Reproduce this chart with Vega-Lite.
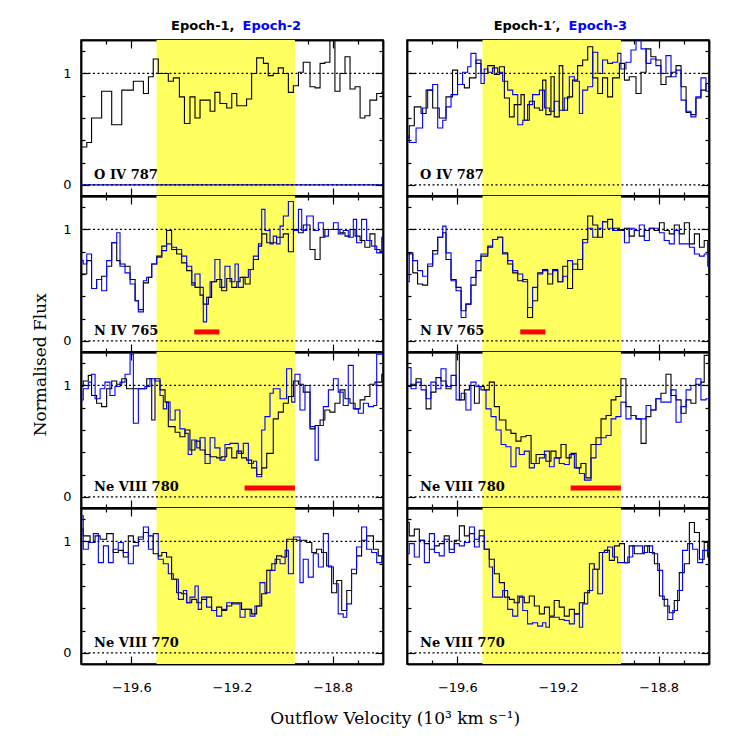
{
"$schema":"https://vega.github.io/schema/vega-lite/v6.json",
"padding":{"left":31,"top":18,"right":5,"bottom":5},
"config":{"view":{"stroke":"#000","strokeWidth":1.5},"axis":{"domain":true,"domainColor":"#000","domainWidth":1.5,"grid":false,"tickColor":"#000","tickWidth":1.2,"labelColor":"#000","labelFont":"DejaVu Sans","labelFontSize":13,"zindex":1}},
"datasets":{
"L1k":[{"v":-19.8,"f":0.34},{"v":-19.777,"f":0.38},{"v":-19.758,"f":0.6},{"v":-19.718,"f":0.84},{"v":-19.678,"f":0.54},{"v":-19.638,"f":0.85},{"v":-19.592,"f":0.93},{"v":-19.552,"f":0.82},{"v":-19.532,"f":0.97},{"v":-19.513,"f":1.13},{"v":-19.493,"f":1.0},{"v":-19.453,"f":0.93},{"v":-19.433,"f":0.96},{"v":-19.409,"f":0.79},{"v":-19.389,"f":0.55},{"v":-19.367,"f":0.79},{"v":-19.347,"f":0.6},{"v":-19.327,"f":0.76},{"v":-19.287,"f":0.66},{"v":-19.268,"f":0.83},{"v":-19.248,"f":0.73},{"v":-19.221,"f":0.69},{"v":-19.201,"f":0.82},{"v":-19.181,"f":0.71},{"v":-19.142,"f":0.77},{"v":-19.122,"f":1.0},{"v":-19.102,"f":1.14},{"v":-19.075,"f":1.09},{"v":-19.056,"f":0.98},{"v":-19.036,"f":1.0},{"v":-19.016,"f":1.05},{"v":-18.996,"f":1.0},{"v":-18.976,"f":0.83},{"v":-18.956,"f":0.89},{"v":-18.936,"f":1.01},{"v":-18.917,"f":1.1},{"v":-18.89,"f":0.88},{"v":-18.87,"f":0.87},{"v":-18.85,"f":1.09},{"v":-18.831,"f":1.1},{"v":-18.811,"f":1.4},{"v":-18.791,"f":0.84},{"v":-18.771,"f":1.0},{"v":-18.751,"f":1.15},{"v":-18.731,"f":0.86},{"v":-18.711,"f":0.88},{"v":-18.691,"f":0.6},{"v":-18.672,"f":0.62},{"v":-18.652,"f":0.76},{"v":-18.625,"f":0.82},{"v":-18.605,"f":0.83},{"v":-18.6,"f":0.83}],
"L1b":[{"v":-19.8,"f":0},{"v":-18.6,"f":0}],
"R1b":[{"v":-19.8,"f":0.44},{"v":-19.791,"f":0.38},{"v":-19.764,"f":0.51},{"v":-19.738,"f":0.69},{"v":-19.718,"f":0.85},{"v":-19.698,"f":0.9},{"v":-19.678,"f":0.51},{"v":-19.658,"f":0.58},{"v":-19.645,"f":0.7},{"v":-19.625,"f":0.81},{"v":-19.599,"f":0.9},{"v":-19.579,"f":1.01},{"v":-19.559,"f":1.06},{"v":-19.546,"f":1.18},{"v":-19.526,"f":1.09},{"v":-19.506,"f":0.91},{"v":-19.493,"f":1.04},{"v":-19.479,"f":1.01},{"v":-19.46,"f":1.05},{"v":-19.44,"f":1.01},{"v":-19.42,"f":0.93},{"v":-19.4,"f":0.85},{"v":-19.38,"f":0.81},{"v":-19.36,"f":0.54},{"v":-19.34,"f":0.58},{"v":-19.321,"f":0.72},{"v":-19.301,"f":0.81},{"v":-19.274,"f":0.85},{"v":-19.254,"f":0.69},{"v":-19.234,"f":0.66},{"v":-19.215,"f":0.75},{"v":-19.195,"f":0.67},{"v":-19.175,"f":0.78},{"v":-19.155,"f":0.97},{"v":-19.135,"f":0.93},{"v":-19.115,"f":0.64},{"v":-19.102,"f":0.85},{"v":-19.082,"f":0.88},{"v":-19.062,"f":1.19},{"v":-19.042,"f":1.0},{"v":-19.023,"f":1.12},{"v":-19.003,"f":1.09},{"v":-18.983,"f":1.1},{"v":-18.963,"f":1.18},{"v":-18.95,"f":1.04},{"v":-18.93,"f":1.1},{"v":-18.91,"f":1.21},{"v":-18.89,"f":1.32},{"v":-18.87,"f":1.22},{"v":-18.85,"f":1.09},{"v":-18.831,"f":1.13},{"v":-18.811,"f":1.07},{"v":-18.791,"f":1.0},{"v":-18.771,"f":1.16},{"v":-18.751,"f":0.97},{"v":-18.731,"f":1.03},{"v":-18.711,"f":0.76},{"v":-18.691,"f":0.66},{"v":-18.672,"f":0.61},{"v":-18.652,"f":0.79},{"v":-18.632,"f":0.96},{"v":-18.612,"f":0.84},{"v":-18.6,"f":0.84}],
"R1k":[{"v":-19.8,"f":0.42},{"v":-19.791,"f":0.53},{"v":-19.771,"f":0.7},{"v":-19.744,"f":0.64},{"v":-19.724,"f":0.85},{"v":-19.698,"f":0.69},{"v":-19.672,"f":0.6},{"v":-19.645,"f":0.79},{"v":-19.619,"f":1.03},{"v":-19.599,"f":0.9},{"v":-19.572,"f":0.87},{"v":-19.552,"f":0.96},{"v":-19.526,"f":1.12},{"v":-19.506,"f":1.0},{"v":-19.479,"f":1.07},{"v":-19.453,"f":0.99},{"v":-19.433,"f":1.06},{"v":-19.413,"f":0.78},{"v":-19.393,"f":0.61},{"v":-19.374,"f":0.72},{"v":-19.347,"f":0.81},{"v":-19.334,"f":0.58},{"v":-19.314,"f":0.75},{"v":-19.294,"f":0.69},{"v":-19.274,"f":0.67},{"v":-19.261,"f":0.94},{"v":-19.248,"f":0.63},{"v":-19.228,"f":0.97},{"v":-19.215,"f":0.61},{"v":-19.195,"f":1.07},{"v":-19.181,"f":0.67},{"v":-19.162,"f":0.79},{"v":-19.142,"f":0.94},{"v":-19.122,"f":1.07},{"v":-19.102,"f":1.12},{"v":-19.082,"f":1.24},{"v":-19.062,"f":0.96},{"v":-19.042,"f":0.82},{"v":-19.023,"f":0.96},{"v":-19.003,"f":0.79},{"v":-18.983,"f":0.96},{"v":-18.956,"f":1.09},{"v":-18.936,"f":0.94},{"v":-18.917,"f":0.97},{"v":-18.89,"f":0.82},{"v":-18.87,"f":1.01},{"v":-18.85,"f":1.22},{"v":-18.831,"f":1.15},{"v":-18.811,"f":1.12},{"v":-18.791,"f":0.9},{"v":-18.771,"f":0.97},{"v":-18.751,"f":1.01},{"v":-18.731,"f":1.07},{"v":-18.711,"f":0.88},{"v":-18.691,"f":0.65},{"v":-18.672,"f":0.63},{"v":-18.652,"f":0.78},{"v":-18.632,"f":0.85},{"v":-18.612,"f":0.91},{"v":-18.6,"f":0.91}],
"L2b":[{"v":-19.8,"f":0.72},{"v":-19.791,"f":0.69},{"v":-19.777,"f":0.78},{"v":-19.758,"f":0.47},{"v":-19.738,"f":0.55},{"v":-19.718,"f":0.45},{"v":-19.698,"f":0.72},{"v":-19.678,"f":0.88},{"v":-19.658,"f":0.97},{"v":-19.645,"f":0.67},{"v":-19.625,"f":0.61},{"v":-19.605,"f":0.51},{"v":-19.585,"f":0.36},{"v":-19.572,"f":0.26},{"v":-19.552,"f":0.54},{"v":-19.539,"f":0.57},{"v":-19.519,"f":0.69},{"v":-19.499,"f":0.75},{"v":-19.479,"f":0.81},{"v":-19.46,"f":0.87},{"v":-19.44,"f":0.84},{"v":-19.42,"f":0.82},{"v":-19.4,"f":0.76},{"v":-19.38,"f":0.67},{"v":-19.36,"f":0.5},{"v":-19.347,"f":0.6},{"v":-19.327,"f":0.48},{"v":-19.314,"f":0.17},{"v":-19.301,"f":0.39},{"v":-19.287,"f":0.53},{"v":-19.268,"f":0.73},{"v":-19.248,"f":0.48},{"v":-19.228,"f":0.67},{"v":-19.208,"f":0.53},{"v":-19.188,"f":0.69},{"v":-19.175,"f":0.48},{"v":-19.155,"f":0.57},{"v":-19.135,"f":0.64},{"v":-19.115,"f":0.76},{"v":-19.095,"f":0.87},{"v":-19.082,"f":1.18},{"v":-19.069,"f":0.99},{"v":-19.049,"f":0.87},{"v":-19.036,"f":0.94},{"v":-19.023,"f":0.87},{"v":-19.009,"f":1.03},{"v":-18.996,"f":1.12},{"v":-18.976,"f":1.25},{"v":-18.956,"f":0.99},{"v":-18.936,"f":1.18},{"v":-18.923,"f":0.99},{"v":-18.903,"f":1.12},{"v":-18.877,"f":0.99},{"v":-18.857,"f":1.06},{"v":-18.837,"f":0.94},{"v":-18.817,"f":1.0},{"v":-18.797,"f":1.06},{"v":-18.778,"f":0.96},{"v":-18.758,"f":0.99},{"v":-18.738,"f":0.93},{"v":-18.718,"f":1.09},{"v":-18.705,"f":0.88},{"v":-18.685,"f":1.09},{"v":-18.665,"f":0.9},{"v":-18.645,"f":0.85},{"v":-18.625,"f":0.79},{"v":-18.605,"f":0.93},{"v":-18.6,"f":0.93}],
"L2k":[{"v":-19.8,"f":0.6},{"v":-19.777,"f":0.72},{"v":-19.758,"f":0.47},{"v":-19.738,"f":0.55},{"v":-19.718,"f":0.58},{"v":-19.698,"f":0.67},{"v":-19.678,"f":0.88},{"v":-19.658,"f":0.72},{"v":-19.645,"f":0.69},{"v":-19.625,"f":0.67},{"v":-19.605,"f":0.55},{"v":-19.585,"f":0.36},{"v":-19.572,"f":0.28},{"v":-19.552,"f":0.52},{"v":-19.532,"f":0.57},{"v":-19.519,"f":0.69},{"v":-19.499,"f":0.76},{"v":-19.479,"f":0.85},{"v":-19.46,"f":0.99},{"v":-19.44,"f":0.82},{"v":-19.42,"f":0.78},{"v":-19.4,"f":0.7},{"v":-19.38,"f":0.63},{"v":-19.36,"f":0.52},{"v":-19.347,"f":0.48},{"v":-19.327,"f":0.41},{"v":-19.314,"f":0.33},{"v":-19.294,"f":0.39},{"v":-19.281,"f":0.53},{"v":-19.261,"f":0.55},{"v":-19.241,"f":0.45},{"v":-19.221,"f":0.56},{"v":-19.201,"f":0.48},{"v":-19.181,"f":0.53},{"v":-19.168,"f":0.57},{"v":-19.148,"f":0.51},{"v":-19.128,"f":0.64},{"v":-19.115,"f":0.73},{"v":-19.095,"f":0.85},{"v":-19.082,"f":0.96},{"v":-19.062,"f":0.88},{"v":-19.023,"f":0.93},{"v":-18.996,"f":0.96},{"v":-18.976,"f":0.8},{"v":-18.956,"f":1.0},{"v":-18.936,"f":0.97},{"v":-18.917,"f":1.04},{"v":-18.89,"f":0.82},{"v":-18.87,"f":0.73},{"v":-18.85,"f":0.93},{"v":-18.831,"f":1.0},{"v":-18.771,"f":0.97},{"v":-18.751,"f":0.94},{"v":-18.731,"f":1.0},{"v":-18.711,"f":0.94},{"v":-18.691,"f":0.9},{"v":-18.672,"f":0.84},{"v":-18.652,"f":0.96},{"v":-18.632,"f":0.82},{"v":-18.612,"f":0.8},{"v":-18.6,"f":0.8}],
"R2b":[{"v":-19.8,"f":0.53},{"v":-19.791,"f":0.78},{"v":-19.777,"f":0.72},{"v":-19.758,"f":0.63},{"v":-19.738,"f":0.58},{"v":-19.718,"f":0.69},{"v":-19.698,"f":0.78},{"v":-19.678,"f":0.93},{"v":-19.658,"f":1.03},{"v":-19.645,"f":0.79},{"v":-19.625,"f":0.54},{"v":-19.605,"f":0.45},{"v":-19.585,"f":0.21},{"v":-19.566,"f":0.33},{"v":-19.546,"f":0.57},{"v":-19.526,"f":0.72},{"v":-19.506,"f":0.78},{"v":-19.479,"f":0.85},{"v":-19.46,"f":0.91},{"v":-19.44,"f":0.93},{"v":-19.42,"f":0.78},{"v":-19.4,"f":0.72},{"v":-19.38,"f":0.63},{"v":-19.36,"f":0.6},{"v":-19.34,"f":0.53},{"v":-19.321,"f":0.3},{"v":-19.301,"f":0.48},{"v":-19.281,"f":0.6},{"v":-19.261,"f":0.63},{"v":-19.241,"f":0.6},{"v":-19.221,"f":0.63},{"v":-19.201,"f":0.53},{"v":-19.181,"f":0.58},{"v":-19.162,"f":0.72},{"v":-19.142,"f":0.64},{"v":-19.122,"f":0.73},{"v":-19.102,"f":0.88},{"v":-19.082,"f":1.01},{"v":-19.062,"f":0.93},{"v":-19.042,"f":1.01},{"v":-19.023,"f":1.07},{"v":-19.003,"f":1.01},{"v":-18.983,"f":0.99},{"v":-18.956,"f":1.0},{"v":-18.936,"f":0.88},{"v":-18.917,"f":1.01},{"v":-18.897,"f":0.99},{"v":-18.877,"f":1.04},{"v":-18.857,"f":0.9},{"v":-18.837,"f":1.01},{"v":-18.797,"f":0.97},{"v":-18.778,"f":0.9},{"v":-18.758,"f":0.87},{"v":-18.738,"f":0.99},{"v":-18.718,"f":0.87},{"v":-18.678,"f":0.84},{"v":-18.658,"f":0.78},{"v":-18.638,"f":0.76},{"v":-18.619,"f":0.78},{"v":-18.605,"f":0.67},{"v":-18.6,"f":0.67}],
"R2k":[{"v":-19.8,"f":0.78},{"v":-19.791,"f":0.79},{"v":-19.777,"f":0.61},{"v":-19.758,"f":0.51},{"v":-19.738,"f":0.5},{"v":-19.718,"f":0.67},{"v":-19.698,"f":0.81},{"v":-19.678,"f":0.93},{"v":-19.658,"f":0.97},{"v":-19.645,"f":0.73},{"v":-19.625,"f":0.55},{"v":-19.605,"f":0.48},{"v":-19.585,"f":0.27},{"v":-19.566,"f":0.33},{"v":-19.546,"f":0.5},{"v":-19.526,"f":0.63},{"v":-19.506,"f":0.76},{"v":-19.479,"f":0.84},{"v":-19.46,"f":0.91},{"v":-19.44,"f":0.93},{"v":-19.42,"f":0.79},{"v":-19.4,"f":0.69},{"v":-19.38,"f":0.61},{"v":-19.36,"f":0.54},{"v":-19.34,"f":0.55},{"v":-19.321,"f":0.21},{"v":-19.301,"f":0.36},{"v":-19.281,"f":0.61},{"v":-19.261,"f":0.64},{"v":-19.241,"f":0.51},{"v":-19.221,"f":0.64},{"v":-19.201,"f":0.53},{"v":-19.181,"f":0.67},{"v":-19.162,"f":0.47},{"v":-19.142,"f":0.69},{"v":-19.122,"f":0.64},{"v":-19.102,"f":0.91},{"v":-19.082,"f":1.12},{"v":-19.062,"f":1.04},{"v":-19.042,"f":0.93},{"v":-19.023,"f":1.07},{"v":-19.003,"f":1.09},{"v":-18.983,"f":1.01},{"v":-18.956,"f":0.99},{"v":-18.936,"f":1.01},{"v":-18.917,"f":0.94},{"v":-18.897,"f":0.99},{"v":-18.877,"f":0.94},{"v":-18.857,"f":0.99},{"v":-18.837,"f":1.01},{"v":-18.817,"f":0.99},{"v":-18.797,"f":1.06},{"v":-18.778,"f":0.99},{"v":-18.758,"f":0.96},{"v":-18.738,"f":1.04},{"v":-18.718,"f":0.96},{"v":-18.698,"f":1.06},{"v":-18.678,"f":0.87},{"v":-18.658,"f":0.96},{"v":-18.638,"f":0.84},{"v":-18.619,"f":0.9},{"v":-18.605,"f":0.79},{"v":-18.6,"f":0.79}],
"L3b":[{"v":-19.8,"f":0.87},{"v":-19.791,"f":0.97},{"v":-19.771,"f":1.03},{"v":-19.758,"f":1.1},{"v":-19.744,"f":0.88},{"v":-19.724,"f":0.97},{"v":-19.705,"f":1.03},{"v":-19.685,"f":0.91},{"v":-19.665,"f":0.99},{"v":-19.645,"f":1.03},{"v":-19.625,"f":1.1},{"v":-19.605,"f":1.28},{"v":-19.592,"f":0.66},{"v":-19.572,"f":0.97},{"v":-19.546,"f":0.99},{"v":-19.526,"f":1.06},{"v":-19.506,"f":1.04},{"v":-19.486,"f":0.91},{"v":-19.473,"f":0.79},{"v":-19.46,"f":0.85},{"v":-19.446,"f":0.69},{"v":-19.426,"f":0.78},{"v":-19.407,"f":0.61},{"v":-19.387,"f":0.57},{"v":-19.374,"f":0.38},{"v":-19.36,"f":0.51},{"v":-19.34,"f":0.44},{"v":-19.327,"f":0.53},{"v":-19.307,"f":0.3},{"v":-19.287,"f":0.53},{"v":-19.268,"f":0.44},{"v":-19.248,"f":0.33},{"v":-19.228,"f":0.47},{"v":-19.208,"f":0.48},{"v":-19.175,"f":0.39},{"v":-19.155,"f":0.48},{"v":-19.135,"f":0.3},{"v":-19.115,"f":0.32},{"v":-19.102,"f":0.18},{"v":-19.082,"f":0.6},{"v":-19.069,"f":0.72},{"v":-19.049,"f":0.93},{"v":-19.036,"f":0.97},{"v":-19.009,"f":0.88},{"v":-18.983,"f":1.15},{"v":-18.963,"f":0.85},{"v":-18.95,"f":1.1},{"v":-18.93,"f":0.78},{"v":-18.91,"f":1.0},{"v":-18.89,"f":0.63},{"v":-18.87,"f":0.33},{"v":-18.857,"f":0.64},{"v":-18.837,"f":0.81},{"v":-18.817,"f":0.96},{"v":-18.797,"f":1.06},{"v":-18.778,"f":0.94},{"v":-18.758,"f":0.82},{"v":-18.738,"f":1.18},{"v":-18.718,"f":0.79},{"v":-18.698,"f":0.75},{"v":-18.678,"f":0.84},{"v":-18.658,"f":0.81},{"v":-18.638,"f":0.82},{"v":-18.625,"f":1.28},{"v":-18.6,"f":1.28}],
"L3k":[{"v":-19.8,"f":0.99},{"v":-19.791,"f":1.04},{"v":-19.771,"f":1.09},{"v":-19.758,"f":0.91},{"v":-19.738,"f":0.84},{"v":-19.718,"f":0.81},{"v":-19.698,"f":0.97},{"v":-19.678,"f":1.04},{"v":-19.658,"f":1.01},{"v":-19.638,"f":1.06},{"v":-19.619,"f":0.97},{"v":-19.539,"f":1.06},{"v":-19.519,"f":0.69},{"v":-19.506,"f":1.06},{"v":-19.486,"f":0.96},{"v":-19.466,"f":0.85},{"v":-19.453,"f":0.63},{"v":-19.426,"f":0.58},{"v":-19.407,"f":0.54},{"v":-19.387,"f":0.6},{"v":-19.367,"f":0.42},{"v":-19.347,"f":0.5},{"v":-19.327,"f":0.42},{"v":-19.307,"f":0.38},{"v":-19.287,"f":0.36},{"v":-19.261,"f":0.35},{"v":-19.241,"f":0.36},{"v":-19.221,"f":0.44},{"v":-19.201,"f":0.35},{"v":-19.181,"f":0.41},{"v":-19.162,"f":0.35},{"v":-19.142,"f":0.33},{"v":-19.122,"f":0.26},{"v":-19.102,"f":0.2},{"v":-19.082,"f":0.26},{"v":-19.062,"f":0.39},{"v":-19.036,"f":0.7},{"v":-19.016,"f":0.76},{"v":-18.996,"f":0.84},{"v":-18.976,"f":0.9},{"v":-18.956,"f":1.04},{"v":-18.936,"f":1.01},{"v":-18.917,"f":0.94},{"v":-18.89,"f":0.61},{"v":-18.87,"f":0.64},{"v":-18.85,"f":0.69},{"v":-18.831,"f":0.78},{"v":-18.811,"f":0.76},{"v":-18.791,"f":0.84},{"v":-18.771,"f":0.96},{"v":-18.751,"f":0.88},{"v":-18.731,"f":0.84},{"v":-18.711,"f":0.79},{"v":-18.691,"f":0.87},{"v":-18.672,"f":0.9},{"v":-18.652,"f":1.01},{"v":-18.632,"f":1.03},{"v":-18.605,"f":1.1},{"v":-18.6,"f":1.1}],
"R3b":[{"v":-19.8,"f":1.16},{"v":-19.784,"f":0.97},{"v":-19.764,"f":1.03},{"v":-19.744,"f":0.96},{"v":-19.724,"f":0.88},{"v":-19.705,"f":1.03},{"v":-19.685,"f":0.97},{"v":-19.665,"f":1.15},{"v":-19.645,"f":0.99},{"v":-19.625,"f":1.09},{"v":-19.605,"f":0.87},{"v":-19.585,"f":0.93},{"v":-19.566,"f":0.78},{"v":-19.546,"f":1.03},{"v":-19.526,"f":0.99},{"v":-19.506,"f":0.96},{"v":-19.486,"f":0.79},{"v":-19.466,"f":0.72},{"v":-19.446,"f":0.6},{"v":-19.426,"f":0.47},{"v":-19.407,"f":0.45},{"v":-19.387,"f":0.27},{"v":-19.367,"f":0.44},{"v":-19.354,"f":0.38},{"v":-19.334,"f":0.41},{"v":-19.314,"f":0.26},{"v":-19.294,"f":0.3},{"v":-19.274,"f":0.35},{"v":-19.254,"f":0.41},{"v":-19.234,"f":0.27},{"v":-19.215,"f":0.35},{"v":-19.195,"f":0.3},{"v":-19.175,"f":0.29},{"v":-19.155,"f":0.38},{"v":-19.135,"f":0.26},{"v":-19.115,"f":0.21},{"v":-19.095,"f":0.15},{"v":-19.069,"f":0.35},{"v":-19.049,"f":0.47},{"v":-19.029,"f":0.53},{"v":-19.009,"f":0.55},{"v":-18.989,"f":0.7},{"v":-18.97,"f":0.72},{"v":-18.95,"f":0.85},{"v":-18.93,"f":0.7},{"v":-18.91,"f":0.73},{"v":-18.89,"f":0.7},{"v":-18.85,"f":0.82},{"v":-18.831,"f":0.78},{"v":-18.811,"f":0.88},{"v":-18.791,"f":0.85},{"v":-18.751,"f":0.96},{"v":-18.731,"f":0.67},{"v":-18.711,"f":0.81},{"v":-18.691,"f":0.96},{"v":-18.672,"f":1.0},{"v":-18.652,"f":1.06},{"v":-18.632,"f":0.87},{"v":-18.612,"f":0.88},{"v":-18.6,"f":0.88}],
"R3k":[{"v":-19.8,"f":0.99},{"v":-19.784,"f":1.01},{"v":-19.764,"f":1.06},{"v":-19.744,"f":1.0},{"v":-19.724,"f":0.79},{"v":-19.705,"f":0.94},{"v":-19.685,"f":1.07},{"v":-19.665,"f":1.04},{"v":-19.645,"f":0.97},{"v":-19.625,"f":1.0},{"v":-19.605,"f":1.28},{"v":-19.592,"f":0.87},{"v":-19.572,"f":0.96},{"v":-19.552,"f":1.0},{"v":-19.532,"f":0.84},{"v":-19.513,"f":0.99},{"v":-19.493,"f":0.96},{"v":-19.473,"f":1.03},{"v":-19.453,"f":0.81},{"v":-19.433,"f":0.69},{"v":-19.407,"f":0.6},{"v":-19.387,"f":0.57},{"v":-19.367,"f":0.5},{"v":-19.347,"f":0.54},{"v":-19.327,"f":0.55},{"v":-19.307,"f":0.3},{"v":-19.287,"f":0.38},{"v":-19.248,"f":0.32},{"v":-19.228,"f":0.41},{"v":-19.208,"f":0.35},{"v":-19.188,"f":0.47},{"v":-19.168,"f":0.35},{"v":-19.148,"f":0.39},{"v":-19.128,"f":0.26},{"v":-19.109,"f":0.3},{"v":-19.089,"f":0.17},{"v":-19.069,"f":0.47},{"v":-19.049,"f":0.53},{"v":-19.029,"f":0.7},{"v":-19.009,"f":0.73},{"v":-18.989,"f":0.87},{"v":-18.97,"f":0.9},{"v":-18.95,"f":1.06},{"v":-18.93,"f":0.81},{"v":-18.91,"f":0.73},{"v":-18.89,"f":0.7},{"v":-18.87,"f":0.48},{"v":-18.85,"f":0.72},{"v":-18.831,"f":0.78},{"v":-18.811,"f":0.88},{"v":-18.791,"f":0.93},{"v":-18.771,"f":1.1},{"v":-18.751,"f":0.91},{"v":-18.731,"f":0.87},{"v":-18.711,"f":0.75},{"v":-18.691,"f":0.87},{"v":-18.672,"f":0.84},{"v":-18.652,"f":1.01},{"v":-18.632,"f":1.03},{"v":-18.619,"f":1.27},{"v":-18.6,"f":1.27}],
"L4b":[{"v":-19.8,"f":1.23},{"v":-19.791,"f":0.93},{"v":-19.771,"f":0.99},{"v":-19.751,"f":1.07},{"v":-19.731,"f":0.81},{"v":-19.711,"f":0.96},{"v":-19.691,"f":0.81},{"v":-19.672,"f":0.93},{"v":-19.652,"f":0.99},{"v":-19.632,"f":0.9},{"v":-19.612,"f":0.8},{"v":-19.592,"f":0.96},{"v":-19.572,"f":1.02},{"v":-19.552,"f":1.13},{"v":-19.532,"f":0.93},{"v":-19.513,"f":1.07},{"v":-19.493,"f":0.84},{"v":-19.473,"f":0.8},{"v":-19.453,"f":0.71},{"v":-19.433,"f":0.66},{"v":-19.413,"f":0.48},{"v":-19.393,"f":0.56},{"v":-19.38,"f":0.45},{"v":-19.367,"f":0.5},{"v":-19.347,"f":0.6},{"v":-19.334,"f":0.39},{"v":-19.321,"f":0.5},{"v":-19.301,"f":0.41},{"v":-19.281,"f":0.38},{"v":-19.261,"f":0.33},{"v":-19.241,"f":0.39},{"v":-19.221,"f":0.45},{"v":-19.201,"f":0.44},{"v":-19.168,"f":0.32},{"v":-19.148,"f":0.39},{"v":-19.128,"f":0.33},{"v":-19.109,"f":0.42},{"v":-19.089,"f":0.63},{"v":-19.069,"f":0.54},{"v":-19.049,"f":0.74},{"v":-19.029,"f":0.84},{"v":-19.009,"f":0.8},{"v":-18.989,"f":0.92},{"v":-18.976,"f":0.71},{"v":-18.956,"f":1.04},{"v":-18.93,"f":0.63},{"v":-18.917,"f":0.84},{"v":-18.897,"f":0.68},{"v":-18.877,"f":0.89},{"v":-18.857,"f":0.77},{"v":-18.837,"f":1.07},{"v":-18.817,"f":0.77},{"v":-18.797,"f":0.62},{"v":-18.778,"f":0.35},{"v":-18.758,"f":0.32},{"v":-18.744,"f":0.44},{"v":-18.725,"f":0.75},{"v":-18.705,"f":0.95},{"v":-18.685,"f":1.13},{"v":-18.665,"f":0.93},{"v":-18.645,"f":0.9},{"v":-18.625,"f":0.81},{"v":-18.605,"f":0.87},{"v":-18.6,"f":0.87}],
"L4k":[{"v":-19.8,"f":1.11},{"v":-19.791,"f":1.05},{"v":-19.764,"f":0.99},{"v":-19.744,"f":1.05},{"v":-19.724,"f":1.02},{"v":-19.698,"f":1.07},{"v":-19.672,"f":0.9},{"v":-19.652,"f":0.92},{"v":-19.632,"f":0.86},{"v":-19.612,"f":1.05},{"v":-19.592,"f":0.99},{"v":-19.572,"f":1.04},{"v":-19.552,"f":1.08},{"v":-19.532,"f":1.05},{"v":-19.513,"f":0.89},{"v":-19.493,"f":0.87},{"v":-19.479,"f":0.9},{"v":-19.46,"f":0.86},{"v":-19.44,"f":0.66},{"v":-19.42,"f":0.54},{"v":-19.4,"f":0.53},{"v":-19.38,"f":0.45},{"v":-19.36,"f":0.48},{"v":-19.34,"f":0.45},{"v":-19.321,"f":0.48},{"v":-19.301,"f":0.5},{"v":-19.281,"f":0.38},{"v":-19.261,"f":0.41},{"v":-19.241,"f":0.38},{"v":-19.221,"f":0.42},{"v":-19.201,"f":0.45},{"v":-19.162,"f":0.39},{"v":-19.122,"f":0.35},{"v":-19.102,"f":0.42},{"v":-19.082,"f":0.53},{"v":-19.062,"f":0.74},{"v":-19.042,"f":0.8},{"v":-19.023,"f":0.87},{"v":-19.003,"f":0.86},{"v":-18.983,"f":1.02},{"v":-18.943,"f":1.01},{"v":-18.903,"f":0.99},{"v":-18.883,"f":0.9},{"v":-18.864,"f":0.93},{"v":-18.844,"f":0.9},{"v":-18.824,"f":0.78},{"v":-18.804,"f":0.54},{"v":-18.784,"f":0.65},{"v":-18.764,"f":0.38},{"v":-18.744,"f":0.56},{"v":-18.725,"f":0.71},{"v":-18.705,"f":0.87},{"v":-18.685,"f":1.01},{"v":-18.665,"f":1.05},{"v":-18.638,"f":0.93},{"v":-18.619,"f":0.87},{"v":-18.6,"f":0.87}],
"R4b":[{"v":-19.8,"f":0.89},{"v":-19.791,"f":0.98},{"v":-19.771,"f":0.86},{"v":-19.751,"f":1.01},{"v":-19.731,"f":0.81},{"v":-19.711,"f":1.07},{"v":-19.691,"f":0.9},{"v":-19.672,"f":0.87},{"v":-19.652,"f":1.02},{"v":-19.632,"f":0.9},{"v":-19.612,"f":0.98},{"v":-19.592,"f":0.96},{"v":-19.572,"f":0.99},{"v":-19.552,"f":1.13},{"v":-19.532,"f":0.95},{"v":-19.513,"f":1.05},{"v":-19.493,"f":0.93},{"v":-19.473,"f":0.77},{"v":-19.46,"f":0.5},{"v":-19.42,"f":0.56},{"v":-19.4,"f":0.39},{"v":-19.38,"f":0.33},{"v":-19.36,"f":0.51},{"v":-19.34,"f":0.38},{"v":-19.321,"f":0.26},{"v":-19.301,"f":0.27},{"v":-19.281,"f":0.24},{"v":-19.261,"f":0.27},{"v":-19.248,"f":0.23},{"v":-19.234,"f":0.32},{"v":-19.195,"f":0.3},{"v":-19.175,"f":0.29},{"v":-19.155,"f":0.26},{"v":-19.135,"f":0.35},{"v":-19.115,"f":0.23},{"v":-19.102,"f":0.44},{"v":-19.082,"f":0.56},{"v":-19.062,"f":0.75},{"v":-19.042,"f":0.53},{"v":-19.023,"f":0.9},{"v":-19.003,"f":0.95},{"v":-18.983,"f":0.86},{"v":-18.963,"f":0.81},{"v":-18.923,"f":0.86},{"v":-18.903,"f":0.96},{"v":-18.864,"f":0.9},{"v":-18.844,"f":0.96},{"v":-18.824,"f":0.89},{"v":-18.804,"f":0.74},{"v":-18.784,"f":0.48},{"v":-18.764,"f":0.3},{"v":-18.744,"f":0.38},{"v":-18.725,"f":0.56},{"v":-18.705,"f":0.92},{"v":-18.685,"f":0.98},{"v":-18.665,"f":0.93},{"v":-18.645,"f":0.81},{"v":-18.625,"f":0.92},{"v":-18.605,"f":0.87},{"v":-18.6,"f":0.87}],
"R4k":[{"v":-19.8,"f":1.17},{"v":-19.791,"f":1.05},{"v":-19.771,"f":1.11},{"v":-19.751,"f":1.01},{"v":-19.731,"f":0.98},{"v":-19.711,"f":0.93},{"v":-19.691,"f":0.96},{"v":-19.672,"f":0.98},{"v":-19.652,"f":1.05},{"v":-19.632,"f":0.93},{"v":-19.612,"f":1.01},{"v":-19.592,"f":1.14},{"v":-19.572,"f":1.05},{"v":-19.552,"f":1.07},{"v":-19.532,"f":1.02},{"v":-19.513,"f":1.1},{"v":-19.493,"f":0.93},{"v":-19.473,"f":0.84},{"v":-19.453,"f":0.71},{"v":-19.433,"f":0.63},{"v":-19.413,"f":0.5},{"v":-19.393,"f":0.48},{"v":-19.374,"f":0.45},{"v":-19.354,"f":0.5},{"v":-19.334,"f":0.45},{"v":-19.314,"f":0.51},{"v":-19.294,"f":0.42},{"v":-19.274,"f":0.35},{"v":-19.254,"f":0.41},{"v":-19.234,"f":0.33},{"v":-19.215,"f":0.47},{"v":-19.195,"f":0.41},{"v":-19.175,"f":0.33},{"v":-19.155,"f":0.39},{"v":-19.135,"f":0.35},{"v":-19.115,"f":0.45},{"v":-19.095,"f":0.54},{"v":-19.075,"f":0.8},{"v":-19.056,"f":0.75},{"v":-19.036,"f":0.9},{"v":-19.016,"f":0.92},{"v":-18.996,"f":0.83},{"v":-18.976,"f":0.96},{"v":-18.956,"f":0.98},{"v":-18.936,"f":0.81},{"v":-18.917,"f":0.96},{"v":-18.897,"f":0.89},{"v":-18.857,"f":0.96},{"v":-18.837,"f":0.9},{"v":-18.817,"f":0.8},{"v":-18.797,"f":0.51},{"v":-18.778,"f":0.42},{"v":-18.758,"f":0.36},{"v":-18.738,"f":0.47},{"v":-18.718,"f":0.72},{"v":-18.698,"f":0.8},{"v":-18.678,"f":1.17},{"v":-18.658,"f":1.08},{"v":-18.638,"f":0.84},{"v":-18.619,"f":0.99},{"v":-18.605,"f":0.86},{"v":-18.6,"f":0.86}]
},
"title":{"text":"Outflow Velocity (10³ km s⁻¹)","orient":"bottom","font":"DejaVu Serif","fontSize":17,"fontWeight":"normal","color":"#000","anchor":"middle","dx":24,"offset":16},
"spacing":20,
"hconcat":[
{"title":{"text":"Normalised Flux","orient":"left","font":"DejaVu Serif","fontSize":17,"fontWeight":"normal","color":"#000","anchor":"middle","offset":12,"dx":-8},
"spacing":0,"bounds":"flush","vconcat":[
{"width":302,"height":156,"resolve":{"axis":{"x":"independent","y":"independent"}},"layer":[
{"data":{"values":[{}]},"mark":{"type":"rect","color":"#ffff60"},"encoding":{"x":{"datum":-19.5,"type":"quantitative","scale":{"domain":[-19.8,-18.6],"nice":false,"zero":false},"axis":{"orient":"bottom","values":[-19.6,-19.2,-18.8],"tickSize":-8,"labels":false,"title":null}},"x2":{"datum":-18.95},"y":{"datum":-0.1,"type":"quantitative","scale":{"domain":[-0.1,1.3],"nice":false,"zero":false},"axis":{"orient":"left","values":[0,1],"tickSize":-8,"labels":true,"format":"d","labelPadding":18,"title":null}},"y2":{"datum":1.3}}},
{"data":{"name":"L1k"},"mark":{"type":"line","interpolate":"step-after","color":"#000","strokeWidth":1.1,"clip":true},"encoding":{"x":{"field":"v","type":"quantitative","scale":{"domain":[-19.8,-18.6],"nice":false,"zero":false},"axis":{"orient":"bottom","values":[-19.7,-19.5,-19.4,-19.3,-19.1,-19.0,-18.9,-18.7],"tickSize":-4,"labels":false,"title":null}},"y":{"field":"f","type":"quantitative","scale":{"domain":[-0.1,1.3],"nice":false,"zero":false},"axis":{"orient":"left","values":[0.2,0.4,0.6,0.8,1.2],"tickSize":-4,"labels":false,"title":null}}}},
{"data":{"name":"L1b"},"mark":{"type":"line","interpolate":"step-after","color":"#0000ff","strokeWidth":1.1,"clip":true},"encoding":{"x":{"field":"v","type":"quantitative","scale":{"domain":[-19.8,-18.6],"nice":false,"zero":false},"axis":{"orient":"top","values":[-19.6,-19.2,-18.8],"tickSize":-8,"labels":false,"title":null}},"y":{"field":"f","type":"quantitative","scale":{"domain":[-0.1,1.3],"nice":false,"zero":false},"axis":{"orient":"right","values":[0,1],"tickSize":-8,"labels":false,"title":null}}}},
{"data":{"values":[{"g":0},{"g":1}]},"mark":{"type":"rule","color":"#000","strokeDash":[2,2.5],"strokeWidth":1.2},"encoding":{"y":{"field":"g","type":"quantitative","scale":{"domain":[-0.1,1.3],"nice":false,"zero":false},"axis":null}}},
{"data":{"values":[{}]},"mark":{"type":"text","align":"left","baseline":"alphabetic","font":"DejaVu Serif","fontWeight":"bold","fontSize":13,"color":"#000"},"encoding":{"x":{"datum":-19.748,"type":"quantitative","scale":{"domain":[-19.8,-18.6],"nice":false,"zero":false},"axis":{"orient":"top","values":[-19.7,-19.5,-19.4,-19.3,-19.1,-19.0,-18.9,-18.7],"tickSize":-4,"labels":false,"title":null}},"y":{"datum":0.05,"type":"quantitative","scale":{"domain":[-0.1,1.3],"nice":false,"zero":false},"axis":{"orient":"right","values":[0.2,0.4,0.6,0.8,1.2],"tickSize":-4,"labels":false,"title":null}},"text":{"value":"O IV 787"}}},
{"data":{"values":[{}]},"mark":{"type":"text","align":"right","baseline":"middle","font":"DejaVu Sans","fontWeight":"bold","fontSize":13,"color":"#000"},"encoding":{"x":{"datum":-19.19,"type":"quantitative","scale":{"domain":[-19.8,-18.6],"nice":false,"zero":false},"axis":null},"y":{"datum":1.43,"type":"quantitative","scale":{"domain":[-0.1,1.3],"nice":false,"zero":false},"axis":null},"text":{"value":"Epoch-1,"}}},
{"data":{"values":[{}]},"mark":{"type":"text","align":"left","baseline":"middle","font":"DejaVu Sans","fontWeight":"bold","fontSize":13,"color":"#0000ff"},"encoding":{"x":{"datum":-19.158,"type":"quantitative","scale":{"domain":[-19.8,-18.6],"nice":false,"zero":false},"axis":null},"y":{"datum":1.43,"type":"quantitative","scale":{"domain":[-0.1,1.3],"nice":false,"zero":false},"axis":null},"text":{"value":"Epoch-2"}}}
]},
{"width":302,"height":156,"resolve":{"axis":{"x":"independent","y":"independent"}},"layer":[
{"data":{"values":[{}]},"mark":{"type":"rect","color":"#ffff60"},"encoding":{"x":{"datum":-19.5,"type":"quantitative","scale":{"domain":[-19.8,-18.6],"nice":false,"zero":false},"axis":{"orient":"bottom","values":[-19.6,-19.2,-18.8],"tickSize":-8,"labels":false,"title":null}},"x2":{"datum":-18.95},"y":{"datum":-0.1,"type":"quantitative","scale":{"domain":[-0.1,1.3],"nice":false,"zero":false},"axis":{"orient":"left","values":[0,1],"tickSize":-8,"labels":true,"format":"d","labelPadding":18,"title":null}},"y2":{"datum":1.3}}},
{"data":{"name":"L2k"},"mark":{"type":"line","interpolate":"step-after","color":"#000","strokeWidth":1.1,"clip":true},"encoding":{"x":{"field":"v","type":"quantitative","scale":{"domain":[-19.8,-18.6],"nice":false,"zero":false},"axis":{"orient":"bottom","values":[-19.7,-19.5,-19.4,-19.3,-19.1,-19.0,-18.9,-18.7],"tickSize":-4,"labels":false,"title":null}},"y":{"field":"f","type":"quantitative","scale":{"domain":[-0.1,1.3],"nice":false,"zero":false},"axis":{"orient":"left","values":[0.2,0.4,0.6,0.8,1.2],"tickSize":-4,"labels":false,"title":null}}}},
{"data":{"name":"L2b"},"mark":{"type":"line","interpolate":"step-after","color":"#0000ff","strokeWidth":1.1,"clip":true},"encoding":{"x":{"field":"v","type":"quantitative","scale":{"domain":[-19.8,-18.6],"nice":false,"zero":false},"axis":{"orient":"top","values":[-19.6,-19.2,-18.8],"tickSize":-8,"labels":false,"title":null}},"y":{"field":"f","type":"quantitative","scale":{"domain":[-0.1,1.3],"nice":false,"zero":false},"axis":{"orient":"right","values":[0,1],"tickSize":-8,"labels":false,"title":null}}}},
{"data":{"values":[{"g":0},{"g":1}]},"mark":{"type":"rule","color":"#000","strokeDash":[2,2.5],"strokeWidth":1.2},"encoding":{"y":{"field":"g","type":"quantitative","scale":{"domain":[-0.1,1.3],"nice":false,"zero":false},"axis":null}}},
{"data":{"values":[{}]},"mark":{"type":"rule","color":"#ff0000","strokeWidth":5},"encoding":{"x":{"datum":-19.35,"type":"quantitative","scale":{"domain":[-19.8,-18.6],"nice":false,"zero":false},"axis":null},"x2":{"datum":-19.25},"y":{"datum":0.08,"type":"quantitative","scale":{"domain":[-0.1,1.3],"nice":false,"zero":false},"axis":null}}},
{"data":{"values":[{}]},"mark":{"type":"text","align":"left","baseline":"alphabetic","font":"DejaVu Serif","fontWeight":"bold","fontSize":13,"color":"#000"},"encoding":{"x":{"datum":-19.748,"type":"quantitative","scale":{"domain":[-19.8,-18.6],"nice":false,"zero":false},"axis":{"orient":"top","values":[-19.7,-19.5,-19.4,-19.3,-19.1,-19.0,-18.9,-18.7],"tickSize":-4,"labels":false,"title":null}},"y":{"datum":0.05,"type":"quantitative","scale":{"domain":[-0.1,1.3],"nice":false,"zero":false},"axis":{"orient":"right","values":[0.2,0.4,0.6,0.8,1.2],"tickSize":-4,"labels":false,"title":null}},"text":{"value":"N IV 765"}}}
]},
{"width":302,"height":156,"resolve":{"axis":{"x":"independent","y":"independent"}},"layer":[
{"data":{"values":[{}]},"mark":{"type":"rect","color":"#ffff60"},"encoding":{"x":{"datum":-19.5,"type":"quantitative","scale":{"domain":[-19.8,-18.6],"nice":false,"zero":false},"axis":{"orient":"bottom","values":[-19.6,-19.2,-18.8],"tickSize":-8,"labels":false,"title":null}},"x2":{"datum":-18.95},"y":{"datum":-0.1,"type":"quantitative","scale":{"domain":[-0.1,1.3],"nice":false,"zero":false},"axis":{"orient":"left","values":[0,1],"tickSize":-8,"labels":true,"format":"d","labelPadding":18,"title":null}},"y2":{"datum":1.3}}},
{"data":{"name":"L3k"},"mark":{"type":"line","interpolate":"step-after","color":"#000","strokeWidth":1.1,"clip":true},"encoding":{"x":{"field":"v","type":"quantitative","scale":{"domain":[-19.8,-18.6],"nice":false,"zero":false},"axis":{"orient":"bottom","values":[-19.7,-19.5,-19.4,-19.3,-19.1,-19.0,-18.9,-18.7],"tickSize":-4,"labels":false,"title":null}},"y":{"field":"f","type":"quantitative","scale":{"domain":[-0.1,1.3],"nice":false,"zero":false},"axis":{"orient":"left","values":[0.2,0.4,0.6,0.8,1.2],"tickSize":-4,"labels":false,"title":null}}}},
{"data":{"name":"L3b"},"mark":{"type":"line","interpolate":"step-after","color":"#0000ff","strokeWidth":1.1,"clip":true},"encoding":{"x":{"field":"v","type":"quantitative","scale":{"domain":[-19.8,-18.6],"nice":false,"zero":false},"axis":{"orient":"top","values":[-19.6,-19.2,-18.8],"tickSize":-8,"labels":false,"title":null}},"y":{"field":"f","type":"quantitative","scale":{"domain":[-0.1,1.3],"nice":false,"zero":false},"axis":{"orient":"right","values":[0,1],"tickSize":-8,"labels":false,"title":null}}}},
{"data":{"values":[{"g":0},{"g":1}]},"mark":{"type":"rule","color":"#000","strokeDash":[2,2.5],"strokeWidth":1.2},"encoding":{"y":{"field":"g","type":"quantitative","scale":{"domain":[-0.1,1.3],"nice":false,"zero":false},"axis":null}}},
{"data":{"values":[{}]},"mark":{"type":"rule","color":"#ff0000","strokeWidth":5},"encoding":{"x":{"datum":-19.15,"type":"quantitative","scale":{"domain":[-19.8,-18.6],"nice":false,"zero":false},"axis":null},"x2":{"datum":-18.95},"y":{"datum":0.08,"type":"quantitative","scale":{"domain":[-0.1,1.3],"nice":false,"zero":false},"axis":null}}},
{"data":{"values":[{}]},"mark":{"type":"text","align":"left","baseline":"alphabetic","font":"DejaVu Serif","fontWeight":"bold","fontSize":13,"color":"#000"},"encoding":{"x":{"datum":-19.748,"type":"quantitative","scale":{"domain":[-19.8,-18.6],"nice":false,"zero":false},"axis":{"orient":"top","values":[-19.7,-19.5,-19.4,-19.3,-19.1,-19.0,-18.9,-18.7],"tickSize":-4,"labels":false,"title":null}},"y":{"datum":0.05,"type":"quantitative","scale":{"domain":[-0.1,1.3],"nice":false,"zero":false},"axis":{"orient":"right","values":[0.2,0.4,0.6,0.8,1.2],"tickSize":-4,"labels":false,"title":null}},"text":{"value":"Ne VIII 780"}}}
]},
{"width":302,"height":156,"resolve":{"axis":{"x":"independent","y":"independent"}},"layer":[
{"data":{"values":[{}]},"mark":{"type":"rect","color":"#ffff60"},"encoding":{"x":{"datum":-19.5,"type":"quantitative","scale":{"domain":[-19.8,-18.6],"nice":false,"zero":false},"axis":{"orient":"bottom","values":[-19.6,-19.2,-18.8],"tickSize":-8,"labels":true,"format":".1f","labelPadding":25,"title":null}},"x2":{"datum":-18.95},"y":{"datum":-0.1,"type":"quantitative","scale":{"domain":[-0.1,1.3],"nice":false,"zero":false},"axis":{"orient":"left","values":[0,1],"tickSize":-8,"labels":true,"format":"d","labelPadding":18,"title":null}},"y2":{"datum":1.3}}},
{"data":{"name":"L4k"},"mark":{"type":"line","interpolate":"step-after","color":"#000","strokeWidth":1.1,"clip":true},"encoding":{"x":{"field":"v","type":"quantitative","scale":{"domain":[-19.8,-18.6],"nice":false,"zero":false},"axis":{"orient":"bottom","values":[-19.7,-19.5,-19.4,-19.3,-19.1,-19.0,-18.9,-18.7],"tickSize":-4,"labels":false,"title":null}},"y":{"field":"f","type":"quantitative","scale":{"domain":[-0.1,1.3],"nice":false,"zero":false},"axis":{"orient":"left","values":[0.2,0.4,0.6,0.8,1.2],"tickSize":-4,"labels":false,"title":null}}}},
{"data":{"name":"L4b"},"mark":{"type":"line","interpolate":"step-after","color":"#0000ff","strokeWidth":1.1,"clip":true},"encoding":{"x":{"field":"v","type":"quantitative","scale":{"domain":[-19.8,-18.6],"nice":false,"zero":false},"axis":{"orient":"top","values":[-19.6,-19.2,-18.8],"tickSize":-8,"labels":false,"title":null}},"y":{"field":"f","type":"quantitative","scale":{"domain":[-0.1,1.3],"nice":false,"zero":false},"axis":{"orient":"right","values":[0,1],"tickSize":-8,"labels":false,"title":null}}}},
{"data":{"values":[{"g":0},{"g":1}]},"mark":{"type":"rule","color":"#000","strokeDash":[2,2.5],"strokeWidth":1.2},"encoding":{"y":{"field":"g","type":"quantitative","scale":{"domain":[-0.1,1.3],"nice":false,"zero":false},"axis":null}}},
{"data":{"values":[{}]},"mark":{"type":"text","align":"left","baseline":"alphabetic","font":"DejaVu Serif","fontWeight":"bold","fontSize":13,"color":"#000"},"encoding":{"x":{"datum":-19.748,"type":"quantitative","scale":{"domain":[-19.8,-18.6],"nice":false,"zero":false},"axis":{"orient":"top","values":[-19.7,-19.5,-19.4,-19.3,-19.1,-19.0,-18.9,-18.7],"tickSize":-4,"labels":false,"title":null}},"y":{"datum":0.05,"type":"quantitative","scale":{"domain":[-0.1,1.3],"nice":false,"zero":false},"axis":{"orient":"right","values":[0.2,0.4,0.6,0.8,1.2],"tickSize":-4,"labels":false,"title":null}},"text":{"value":"Ne VIII 770"}}}
]}
]},
{"spacing":0,"bounds":"flush","vconcat":[
{"width":302,"height":156,"resolve":{"axis":{"x":"independent","y":"independent"}},"layer":[
{"data":{"values":[{}]},"mark":{"type":"rect","color":"#ffff60"},"encoding":{"x":{"datum":-19.5,"type":"quantitative","scale":{"domain":[-19.8,-18.6],"nice":false,"zero":false},"axis":{"orient":"bottom","values":[-19.6,-19.2,-18.8],"tickSize":-8,"labels":false,"title":null}},"x2":{"datum":-18.95},"y":{"datum":-0.1,"type":"quantitative","scale":{"domain":[-0.1,1.3],"nice":false,"zero":false},"axis":{"orient":"left","values":[0,1],"tickSize":-8,"labels":false,"title":null}},"y2":{"datum":1.3}}},
{"data":{"name":"R1k"},"mark":{"type":"line","interpolate":"step-after","color":"#000","strokeWidth":1.1,"clip":true},"encoding":{"x":{"field":"v","type":"quantitative","scale":{"domain":[-19.8,-18.6],"nice":false,"zero":false},"axis":{"orient":"bottom","values":[-19.7,-19.5,-19.4,-19.3,-19.1,-19.0,-18.9,-18.7],"tickSize":-4,"labels":false,"title":null}},"y":{"field":"f","type":"quantitative","scale":{"domain":[-0.1,1.3],"nice":false,"zero":false},"axis":{"orient":"left","values":[0.2,0.4,0.6,0.8,1.2],"tickSize":-4,"labels":false,"title":null}}}},
{"data":{"name":"R1b"},"mark":{"type":"line","interpolate":"step-after","color":"#0000ff","strokeWidth":1.1,"clip":true},"encoding":{"x":{"field":"v","type":"quantitative","scale":{"domain":[-19.8,-18.6],"nice":false,"zero":false},"axis":{"orient":"top","values":[-19.6,-19.2,-18.8],"tickSize":-8,"labels":false,"title":null}},"y":{"field":"f","type":"quantitative","scale":{"domain":[-0.1,1.3],"nice":false,"zero":false},"axis":{"orient":"right","values":[0,1],"tickSize":-8,"labels":false,"title":null}}}},
{"data":{"values":[{"g":0},{"g":1}]},"mark":{"type":"rule","color":"#000","strokeDash":[2,2.5],"strokeWidth":1.2},"encoding":{"y":{"field":"g","type":"quantitative","scale":{"domain":[-0.1,1.3],"nice":false,"zero":false},"axis":null}}},
{"data":{"values":[{}]},"mark":{"type":"text","align":"left","baseline":"alphabetic","font":"DejaVu Serif","fontWeight":"bold","fontSize":13,"color":"#000"},"encoding":{"x":{"datum":-19.748,"type":"quantitative","scale":{"domain":[-19.8,-18.6],"nice":false,"zero":false},"axis":{"orient":"top","values":[-19.7,-19.5,-19.4,-19.3,-19.1,-19.0,-18.9,-18.7],"tickSize":-4,"labels":false,"title":null}},"y":{"datum":0.05,"type":"quantitative","scale":{"domain":[-0.1,1.3],"nice":false,"zero":false},"axis":{"orient":"right","values":[0.2,0.4,0.6,0.8,1.2],"tickSize":-4,"labels":false,"title":null}},"text":{"value":"O IV 787"}}},
{"data":{"values":[{}]},"mark":{"type":"text","align":"right","baseline":"middle","font":"DejaVu Sans","fontWeight":"bold","fontSize":13,"color":"#000"},"encoding":{"x":{"datum":-19.19,"type":"quantitative","scale":{"domain":[-19.8,-18.6],"nice":false,"zero":false},"axis":null},"y":{"datum":1.43,"type":"quantitative","scale":{"domain":[-0.1,1.3],"nice":false,"zero":false},"axis":null},"text":{"value":"Epoch-1′,"}}},
{"data":{"values":[{}]},"mark":{"type":"text","align":"left","baseline":"middle","font":"DejaVu Sans","fontWeight":"bold","fontSize":13,"color":"#0000ff"},"encoding":{"x":{"datum":-19.158,"type":"quantitative","scale":{"domain":[-19.8,-18.6],"nice":false,"zero":false},"axis":null},"y":{"datum":1.43,"type":"quantitative","scale":{"domain":[-0.1,1.3],"nice":false,"zero":false},"axis":null},"text":{"value":"Epoch-3"}}}
]},
{"width":302,"height":156,"resolve":{"axis":{"x":"independent","y":"independent"}},"layer":[
{"data":{"values":[{}]},"mark":{"type":"rect","color":"#ffff60"},"encoding":{"x":{"datum":-19.5,"type":"quantitative","scale":{"domain":[-19.8,-18.6],"nice":false,"zero":false},"axis":{"orient":"bottom","values":[-19.6,-19.2,-18.8],"tickSize":-8,"labels":false,"title":null}},"x2":{"datum":-18.95},"y":{"datum":-0.1,"type":"quantitative","scale":{"domain":[-0.1,1.3],"nice":false,"zero":false},"axis":{"orient":"left","values":[0,1],"tickSize":-8,"labels":false,"title":null}},"y2":{"datum":1.3}}},
{"data":{"name":"R2k"},"mark":{"type":"line","interpolate":"step-after","color":"#000","strokeWidth":1.1,"clip":true},"encoding":{"x":{"field":"v","type":"quantitative","scale":{"domain":[-19.8,-18.6],"nice":false,"zero":false},"axis":{"orient":"bottom","values":[-19.7,-19.5,-19.4,-19.3,-19.1,-19.0,-18.9,-18.7],"tickSize":-4,"labels":false,"title":null}},"y":{"field":"f","type":"quantitative","scale":{"domain":[-0.1,1.3],"nice":false,"zero":false},"axis":{"orient":"left","values":[0.2,0.4,0.6,0.8,1.2],"tickSize":-4,"labels":false,"title":null}}}},
{"data":{"name":"R2b"},"mark":{"type":"line","interpolate":"step-after","color":"#0000ff","strokeWidth":1.1,"clip":true},"encoding":{"x":{"field":"v","type":"quantitative","scale":{"domain":[-19.8,-18.6],"nice":false,"zero":false},"axis":{"orient":"top","values":[-19.6,-19.2,-18.8],"tickSize":-8,"labels":false,"title":null}},"y":{"field":"f","type":"quantitative","scale":{"domain":[-0.1,1.3],"nice":false,"zero":false},"axis":{"orient":"right","values":[0,1],"tickSize":-8,"labels":false,"title":null}}}},
{"data":{"values":[{"g":0},{"g":1}]},"mark":{"type":"rule","color":"#000","strokeDash":[2,2.5],"strokeWidth":1.2},"encoding":{"y":{"field":"g","type":"quantitative","scale":{"domain":[-0.1,1.3],"nice":false,"zero":false},"axis":null}}},
{"data":{"values":[{}]},"mark":{"type":"rule","color":"#ff0000","strokeWidth":5},"encoding":{"x":{"datum":-19.35,"type":"quantitative","scale":{"domain":[-19.8,-18.6],"nice":false,"zero":false},"axis":null},"x2":{"datum":-19.25},"y":{"datum":0.08,"type":"quantitative","scale":{"domain":[-0.1,1.3],"nice":false,"zero":false},"axis":null}}},
{"data":{"values":[{}]},"mark":{"type":"text","align":"left","baseline":"alphabetic","font":"DejaVu Serif","fontWeight":"bold","fontSize":13,"color":"#000"},"encoding":{"x":{"datum":-19.748,"type":"quantitative","scale":{"domain":[-19.8,-18.6],"nice":false,"zero":false},"axis":{"orient":"top","values":[-19.7,-19.5,-19.4,-19.3,-19.1,-19.0,-18.9,-18.7],"tickSize":-4,"labels":false,"title":null}},"y":{"datum":0.05,"type":"quantitative","scale":{"domain":[-0.1,1.3],"nice":false,"zero":false},"axis":{"orient":"right","values":[0.2,0.4,0.6,0.8,1.2],"tickSize":-4,"labels":false,"title":null}},"text":{"value":"N IV 765"}}}
]},
{"width":302,"height":156,"resolve":{"axis":{"x":"independent","y":"independent"}},"layer":[
{"data":{"values":[{}]},"mark":{"type":"rect","color":"#ffff60"},"encoding":{"x":{"datum":-19.5,"type":"quantitative","scale":{"domain":[-19.8,-18.6],"nice":false,"zero":false},"axis":{"orient":"bottom","values":[-19.6,-19.2,-18.8],"tickSize":-8,"labels":false,"title":null}},"x2":{"datum":-18.95},"y":{"datum":-0.1,"type":"quantitative","scale":{"domain":[-0.1,1.3],"nice":false,"zero":false},"axis":{"orient":"left","values":[0,1],"tickSize":-8,"labels":false,"title":null}},"y2":{"datum":1.3}}},
{"data":{"name":"R3k"},"mark":{"type":"line","interpolate":"step-after","color":"#000","strokeWidth":1.1,"clip":true},"encoding":{"x":{"field":"v","type":"quantitative","scale":{"domain":[-19.8,-18.6],"nice":false,"zero":false},"axis":{"orient":"bottom","values":[-19.7,-19.5,-19.4,-19.3,-19.1,-19.0,-18.9,-18.7],"tickSize":-4,"labels":false,"title":null}},"y":{"field":"f","type":"quantitative","scale":{"domain":[-0.1,1.3],"nice":false,"zero":false},"axis":{"orient":"left","values":[0.2,0.4,0.6,0.8,1.2],"tickSize":-4,"labels":false,"title":null}}}},
{"data":{"name":"R3b"},"mark":{"type":"line","interpolate":"step-after","color":"#0000ff","strokeWidth":1.1,"clip":true},"encoding":{"x":{"field":"v","type":"quantitative","scale":{"domain":[-19.8,-18.6],"nice":false,"zero":false},"axis":{"orient":"top","values":[-19.6,-19.2,-18.8],"tickSize":-8,"labels":false,"title":null}},"y":{"field":"f","type":"quantitative","scale":{"domain":[-0.1,1.3],"nice":false,"zero":false},"axis":{"orient":"right","values":[0,1],"tickSize":-8,"labels":false,"title":null}}}},
{"data":{"values":[{"g":0},{"g":1}]},"mark":{"type":"rule","color":"#000","strokeDash":[2,2.5],"strokeWidth":1.2},"encoding":{"y":{"field":"g","type":"quantitative","scale":{"domain":[-0.1,1.3],"nice":false,"zero":false},"axis":null}}},
{"data":{"values":[{}]},"mark":{"type":"rule","color":"#ff0000","strokeWidth":5},"encoding":{"x":{"datum":-19.15,"type":"quantitative","scale":{"domain":[-19.8,-18.6],"nice":false,"zero":false},"axis":null},"x2":{"datum":-18.95},"y":{"datum":0.08,"type":"quantitative","scale":{"domain":[-0.1,1.3],"nice":false,"zero":false},"axis":null}}},
{"data":{"values":[{}]},"mark":{"type":"text","align":"left","baseline":"alphabetic","font":"DejaVu Serif","fontWeight":"bold","fontSize":13,"color":"#000"},"encoding":{"x":{"datum":-19.748,"type":"quantitative","scale":{"domain":[-19.8,-18.6],"nice":false,"zero":false},"axis":{"orient":"top","values":[-19.7,-19.5,-19.4,-19.3,-19.1,-19.0,-18.9,-18.7],"tickSize":-4,"labels":false,"title":null}},"y":{"datum":0.05,"type":"quantitative","scale":{"domain":[-0.1,1.3],"nice":false,"zero":false},"axis":{"orient":"right","values":[0.2,0.4,0.6,0.8,1.2],"tickSize":-4,"labels":false,"title":null}},"text":{"value":"Ne VIII 780"}}}
]},
{"width":302,"height":156,"resolve":{"axis":{"x":"independent","y":"independent"}},"layer":[
{"data":{"values":[{}]},"mark":{"type":"rect","color":"#ffff60"},"encoding":{"x":{"datum":-19.5,"type":"quantitative","scale":{"domain":[-19.8,-18.6],"nice":false,"zero":false},"axis":{"orient":"bottom","values":[-19.6,-19.2,-18.8],"tickSize":-8,"labels":true,"format":".1f","labelPadding":25,"title":null}},"x2":{"datum":-18.95},"y":{"datum":-0.1,"type":"quantitative","scale":{"domain":[-0.1,1.3],"nice":false,"zero":false},"axis":{"orient":"left","values":[0,1],"tickSize":-8,"labels":false,"title":null}},"y2":{"datum":1.3}}},
{"data":{"name":"R4k"},"mark":{"type":"line","interpolate":"step-after","color":"#000","strokeWidth":1.1,"clip":true},"encoding":{"x":{"field":"v","type":"quantitative","scale":{"domain":[-19.8,-18.6],"nice":false,"zero":false},"axis":{"orient":"bottom","values":[-19.7,-19.5,-19.4,-19.3,-19.1,-19.0,-18.9,-18.7],"tickSize":-4,"labels":false,"title":null}},"y":{"field":"f","type":"quantitative","scale":{"domain":[-0.1,1.3],"nice":false,"zero":false},"axis":{"orient":"left","values":[0.2,0.4,0.6,0.8,1.2],"tickSize":-4,"labels":false,"title":null}}}},
{"data":{"name":"R4b"},"mark":{"type":"line","interpolate":"step-after","color":"#0000ff","strokeWidth":1.1,"clip":true},"encoding":{"x":{"field":"v","type":"quantitative","scale":{"domain":[-19.8,-18.6],"nice":false,"zero":false},"axis":{"orient":"top","values":[-19.6,-19.2,-18.8],"tickSize":-8,"labels":false,"title":null}},"y":{"field":"f","type":"quantitative","scale":{"domain":[-0.1,1.3],"nice":false,"zero":false},"axis":{"orient":"right","values":[0,1],"tickSize":-8,"labels":false,"title":null}}}},
{"data":{"values":[{"g":0},{"g":1}]},"mark":{"type":"rule","color":"#000","strokeDash":[2,2.5],"strokeWidth":1.2},"encoding":{"y":{"field":"g","type":"quantitative","scale":{"domain":[-0.1,1.3],"nice":false,"zero":false},"axis":null}}},
{"data":{"values":[{}]},"mark":{"type":"text","align":"left","baseline":"alphabetic","font":"DejaVu Serif","fontWeight":"bold","fontSize":13,"color":"#000"},"encoding":{"x":{"datum":-19.748,"type":"quantitative","scale":{"domain":[-19.8,-18.6],"nice":false,"zero":false},"axis":{"orient":"top","values":[-19.7,-19.5,-19.4,-19.3,-19.1,-19.0,-18.9,-18.7],"tickSize":-4,"labels":false,"title":null}},"y":{"datum":0.05,"type":"quantitative","scale":{"domain":[-0.1,1.3],"nice":false,"zero":false},"axis":{"orient":"right","values":[0.2,0.4,0.6,0.8,1.2],"tickSize":-4,"labels":false,"title":null}},"text":{"value":"Ne VIII 770"}}}
]}
]}
]
}
